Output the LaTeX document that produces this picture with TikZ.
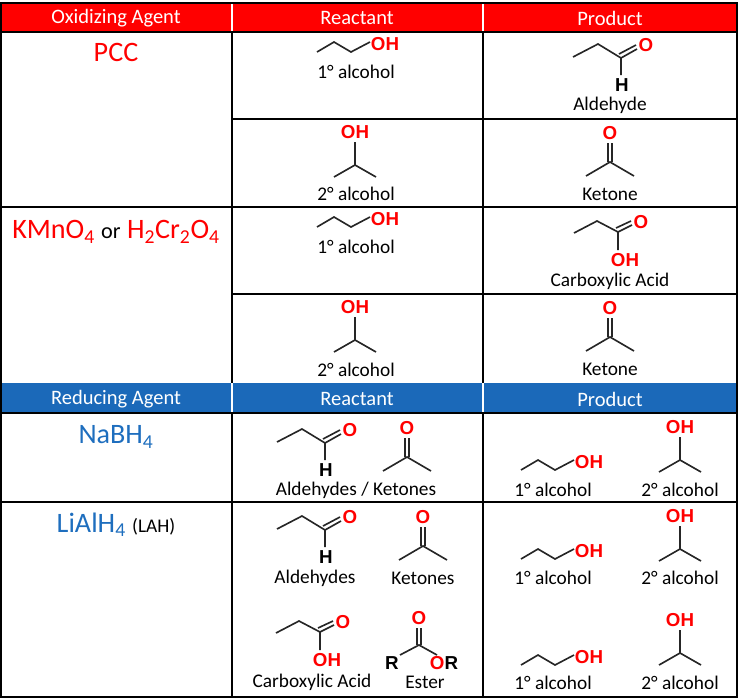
\documentclass[tikz,border=0pt]{standalone}
\usepackage{fontspec}
\setmainfont{Carlito}
\newfontfamily\atomfont{Liberation Sans}
\definecolor{hdred}{RGB}{255,0,0}
\definecolor{hdblue}{RGB}{27,105,185}
\definecolor{agblue}{RGB}{30,110,190}
\tikzset{
  bond/.style={line width=1.4pt,black!85},
  atom/.style={font=\atomfont\bfseries\fontsize{16}{17}\selectfont,inner sep=0pt},
  lbl/.style={font=\fontsize{16.5}{18}\selectfont,inner sep=0pt},
  head/.style={font=\fontsize{17.5}{19}\selectfont,text=white,inner sep=0pt},
  agent/.style={font=\fontsize{24}{26}\selectfont,inner sep=0pt}
}
% molecules, placed by the position of their hetero atom
\newcommand\primalc[2]{\begin{scope}[shift={(#1,#2)}]
  \draw[bond] (-68,8) -- (-51,-2) -- (-34,8) -- (-15,-2);
  \node[atom,text=hdred] at (0,0) {OH};
\end{scope}}
\newcommand\secalc[2]{\begin{scope}[shift={(#1,#2)}]
  \node[atom,text=hdred] at (0,0) {OH};
  \draw[bond] (0,10) -- (0,33);
  \draw[bond] (-21,45) -- (0,33) -- (21,45);
\end{scope}}
\newcommand\ketone[2]{\begin{scope}[shift={(#1,#2)}]
  \node[atom,text=hdred] at (0,0) {O};
  \draw[bond] (-1.9,10) -- (-1.9,29) (1.9,10) -- (1.9,29);
  \draw[bond] (-24,43) -- (0,29) -- (24,43);
\end{scope}}
\newcommand\aldehyde[2]{\begin{scope}[shift={(#1,#2)}]
  \node[atom,text=hdred] at (0,0) {O};
  \node[atom] at (-24,40) {H};
  \draw[bond] (-73,12) -- (-48,-1) -- (-25,13) -- (-25,30);
  \draw[bond] (-25,13) -- (-9,4) (-27,9) -- (-10,0);
\end{scope}}
\newcommand\acid[2]{\begin{scope}[shift={(#1,#2)}]
  \node[atom,text=hdred] at (0,0) {O};
  \node[atom,text=hdred] at (-16,38) {OH};
  \draw[bond] (-67,11) -- (-44,-1) -- (-23,10) -- (-23,28);
  \draw[bond] (-23,10) -- (-9,3) (-25,6) -- (-10,-1);
\end{scope}}
\newcommand\ester[2]{\begin{scope}[shift={(#1,#2)}]
  \node[atom,text=hdred] at (0,0) {O};
  \node[atom] at (-27,45) {R};
  \node[atom] at (25,45) {\textcolor{hdred}{O}R};
  \draw[bond] (-1.9,10) -- (-1.9,27) (1.9,10) -- (1.9,27);
  \draw[bond] (-19,37) -- (0,27) -- (18,37);
\end{scope}}
\begin{document}
\begin{tikzpicture}[x=0.03cm,y=-0.03cm]
  \useasboundingbox (0,0) rectangle (740,699);
  % header bands
  \fill[hdred] (1,3) rectangle (737,32);
  \fill[hdblue] (1,383) rectangle (737,413);
  \draw[white,line width=1pt] (232,3) -- (232,32) (483,3) -- (483,32)
    (232,383) -- (232,413) (483,383) -- (483,413);
  % grid
  \draw[line width=0.9pt] (1,3) rectangle (737,697);
  \draw[line width=0.9pt] (232,32) -- (232,383) (483,32) -- (483,383)
    (232,413) -- (232,697) (483,413) -- (483,697);
  \draw[line width=0.9pt] (1,32) -- (737,32) (232,119) -- (737,119)
    (1,207) -- (737,207) (232,294) -- (737,294) (1,413) -- (737,413)
    (1,502) -- (737,502);
  % headers
  \node[head] (ox) at (116,18) {Oxidizing Agent};
  \node[head] (rc1) at (357,18) {Reactant};
  \node[head] (pr1) at (610,18) {Product};
  \node[head] (rd) at (116,399) {Reducing Agent};
  \node[head] (rc2) at (357,399) {Reactant};
  \node[head] (pr2) at (610,399) {Product};
  % agents
  \node[agent,text=hdred] (pcc) at (116,52) {PCC};
  \node[agent] (kmn) at (116,232) {\textcolor{hdred}{KMnO\textsubscript{4}} {\fontsize{19}{21}\selectfont or} \textcolor{hdred}{H\textsubscript{2}Cr\textsubscript{2}O\textsubscript{4}}};
  \node[agent,text=agblue] (nab) at (116,437) {NaBH\textsubscript{4}};
  \node[agent] (lah) at (116,525) {\textcolor{agblue}{LiAlH\textsubscript{4}} {\fontsize{16.5}{18}\selectfont(LAH)}};
  % oxidation rows
  \primalc{385}{44} \node[lbl] (l1) at (356,72) {1° alcohol};
  \aldehyde{646}{45} \node[lbl] (l2) at (610,105) {Aldehyde};
  \secalc{355}{132} \node[lbl] (l3) at (356,194) {2° alcohol};
  \ketone{610}{133} \node[lbl] (l4) at (610,194) {Ketone};
  \primalc{385}{219} \node[lbl] (l5) at (356,247) {1° alcohol};
  \acid{641}{222} \node[lbl] (l6) at (610,281) {Carboxylic Acid};
  \secalc{355}{307} \node[lbl] (l7) at (356,370) {2° alcohol};
  \ketone{610}{308} \node[lbl] (l8) at (610,369) {Ketone};
  % reduction rows
  \aldehyde{350}{430} \ketone{407}{428}
  \node[lbl] (l9) at (356,490) {Aldehydes / Ketones};
  \primalc{589}{462} \node[lbl] (l10) at (553,490) {1° alcohol};
  \secalc{680}{427} \node[lbl] (l11) at (680,490) {2° alcohol};
  \aldehyde{350}{517} \node[lbl] (l12) at (315,578) {Aldehydes};
  \ketone{423}{517} \node[lbl] (l13) at (423,578) {Ketones};
  \primalc{589}{551} \node[lbl] (l14) at (553,578) {1° alcohol};
  \secalc{680}{516} \node[lbl] (l15) at (680,578) {2° alcohol};
  \acid{343}{622} \node[lbl] (l16) at (312,682) {Carboxylic Acid};
  \ester{419}{618} \node[lbl] (l17) at (425,682) {Ester};
  \primalc{589}{657} \node[lbl] (l18) at (553,683) {1° alcohol};
  \secalc{680}{620} \node[lbl] (l19) at (680,683) {2° alcohol};
\end{tikzpicture}
\end{document}
